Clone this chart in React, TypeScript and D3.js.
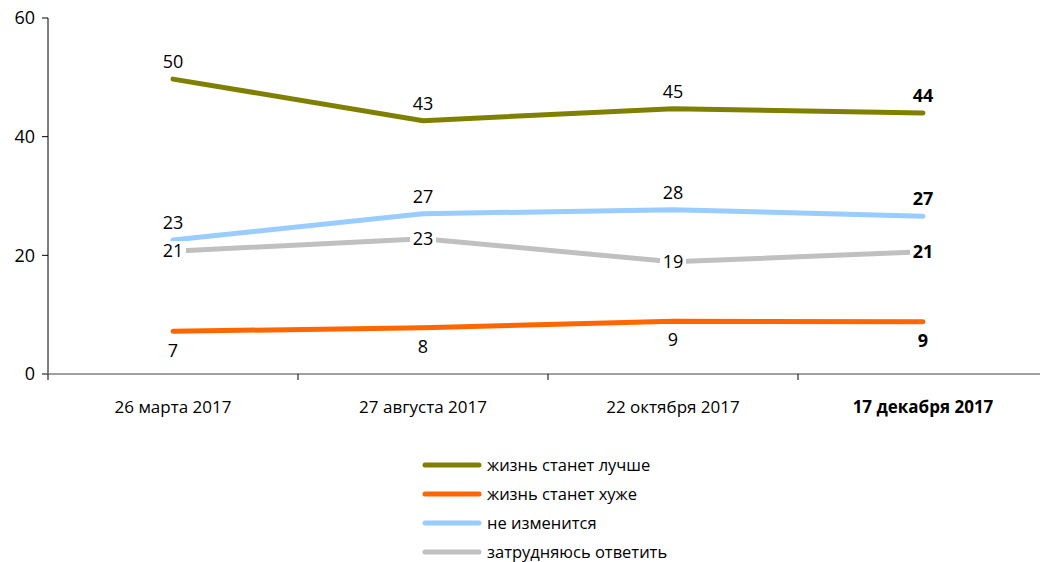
import React from "react";
import * as d3 from "d3";

const categories = ["26 марта 2017", "27 августа 2017", "22 октября 2017", "17 декабря 2017"];
const yTicks = [0, 20, 40, 60];
const better = [49.7, 42.7, 44.7, 44.0];
const worse = [7.2, 7.8, 8.9, 8.8];
const same = [22.6, 27.0, 27.7, 26.6];
const hard = [20.7, 22.8, 18.9, 20.6];
const betterLabels = [50, 43, 45, 44];
const worseLabels = [7, 8, 9, 9];
const sameLabels = [23, 27, 28, 27];
const hardLabels = [21, 23, 19, 21];
const seriesNames = ["жизнь станет лучше", "жизнь станет хуже", "не изменится", "затрудняюсь ответить"];

const W = 1040, H = 562;
const FONT = "'Open Sans', 'Noto Sans', sans-serif";

export default function App() {
  const x = d3.scaleBand<string>().domain(categories).range([48, 1048]);
  const y = d3.scaleLinear().domain([0, 60]).range([374, 18]);
  const cx = (c: string) => (x(c) as number) + x.bandwidth() / 2;
  const line = d3.line<number>().x((_, i) => cx(categories[i])).y((v) => y(v));

  const series = [
    { name: seriesNames[0], values: better, labels: betterLabels, color: "#808000", pos: "above" },
    { name: seriesNames[1], values: worse, labels: worseLabels, color: "#FF6600", pos: "below" },
    { name: seriesNames[2], values: same, labels: sameLabels, color: "#99CCFF", pos: "above" },
    { name: seriesNames[3], values: hard, labels: hardLabels, color: "#C0C0C0", pos: "center" },
  ];

  return (
    <svg width={W} height={H} style={{ position: "absolute", left: 0, top: 0, fontFamily: FONT }}>
      <rect width={W} height={H} fill="#fff" />
      <line x1={48} x2={48} y1={y(60)} y2={y(0)} stroke="#000" strokeWidth={1} />
      {yTicks.map((t) => (
        <g key={t}>
          <line x1={42} x2={48} y1={y(t)} y2={y(t)} stroke="#000" />
          <text x={35} y={y(t)} dy="0.35em" textAnchor="end" fontSize={18} fill="#000">{t}</text>
        </g>
      ))}
      <line x1={42} x2={1040} y1={y(0)} y2={y(0)} stroke="#808080" strokeWidth={1.5} />
      {categories.map((c, i) => (
        <g key={c}>
          <line x1={x(c) as number} x2={x(c) as number} y1={y(0)} y2={y(0) + 6} stroke="#000" />
          <text x={cx(c)} y={413} textAnchor="middle" fontSize={17} fontWeight={i === 3 ? "bold" : "normal"} fill="#000">{c}</text>
        </g>
      ))}
      {series.map((s) => (
        <path key={s.name} d={line(s.values) || ""} fill="none" stroke={s.color} strokeWidth={5} strokeLinecap="round" />
      ))}
      {series.map((s) =>
        s.values.map((v, i) => {
          const px = cx(categories[i]);
          const py = y(v);
          const bold = i === 3 ? "bold" : "normal";
          if (s.pos === "center") {
            return (
              <g key={s.name + i}>
                <rect x={px - 13} y={py - 10} width={26} height={20} fill="#fff" />
                <text x={px} y={py} dy="0.35em" textAnchor="middle" fontSize={18} fontWeight={bold} fill="#000">{s.labels[i]}</text>
              </g>
            );
          }
          const ly = s.pos === "above" ? py - 17 : py + 19;
          return (
            <text key={s.name + i} x={px} y={ly} dy="0.35em" textAnchor="middle" fontSize={18} fontWeight={bold} fill="#000">{s.labels[i]}</text>
          );
        })
      )}
      {series.map((s, i) => (
        <g key={s.name} transform={`translate(0, ${465 + i * 29})`}>
          <line x1={425} x2={479} y1={0} y2={0} stroke={s.color} strokeWidth={5} strokeLinecap="round" />
          <text x={487} y={0} dy="0.35em" fontSize={16.5} fill="#000">{s.name}</text>
        </g>
      ))}
    </svg>
  );
}
